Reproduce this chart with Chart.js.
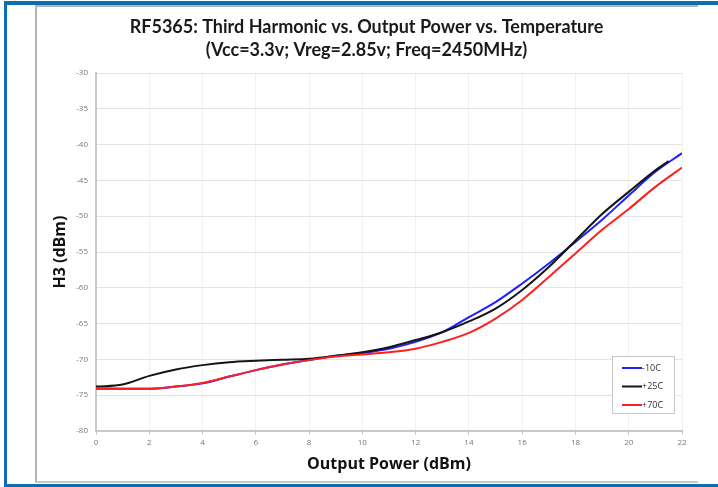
<!DOCTYPE html>
<html>
<head>
<meta charset="utf-8">
<script src="https://cdn.jsdelivr.net/npm/chart.js@4"></script>
<style>
  html, body { margin: 0; padding: 0; background: #fff; }
  #wrap { position: relative; width: 718px; height: 487px; overflow: hidden; }
  .blue { position: absolute; background: #0b6db3; }
  #sheet { position: absolute; left: 35px; top: 5px; width: 663px; height: 478px;
           border-left: 2px solid #b4b4b4; border-top: 2px solid #b4b4b4; border-bottom: 2px solid #c8c8c8;
           box-sizing: border-box; }
  canvas { position: absolute; left: 0; top: 0; }
</style>
</head>
<body>
<div id="wrap">
  <div id="sheet"></div>
  <div class="blue" style="left:4px;top:1px;width:714px;height:4px"></div>
  <div class="blue" style="left:4px;top:1px;width:3px;height:486px"></div>
  <div class="blue" style="left:4px;top:484px;width:714px;height:3px"></div>
  <canvas id="chart" width="718" height="487"></canvas>
</div>
<script>
// output power (dBm) sample points
var powerPts = [0, 1, 2, 3, 4, 5, 6, 7, 8, 9, 10, 11, 12, 13, 14, 15, 16, 17, 18, 19, 20, 21, 22];
var powerPts25 = [0, 1, 2, 3, 4, 5, 6, 7, 8, 9, 10, 11, 12, 13, 14, 15, 16, 17, 18, 19, 20, 21, 21.5];

// H3 (dBm) per temperature
var h3Minus10 = [-74.1, -74.1, -74.1, -73.8, -73.35, -72.4, -71.5, -70.7, -70.1, -69.5, -69.1, -68.5,
                 -67.55, -66.2, -64.1, -62.0, -59.4, -56.6, -53.6, -50.5, -47.1, -43.8, -41.2];
var h3Plus25 = [-73.8, -73.5, -72.3, -71.4, -70.8, -70.4, -70.2, -70.05, -69.9, -69.5, -69.0, -68.3,
                -67.3, -66.2, -64.7, -62.9, -60.3, -57.1, -53.4, -49.7, -46.6, -43.6, -42.3];
var h3Plus70 = [-74.0, -74.1, -74.1, -73.8, -73.3, -72.4, -71.5, -70.7, -70.1, -69.6, -69.3, -69.0,
                -68.5, -67.55, -66.3, -64.3, -61.7, -58.5, -55.2, -51.9, -49.0, -45.9, -43.2];

var seriesNames = ['-10C', '+25C', '+70C'];
var seriesColors = ['#1f1fff', '#141414', '#ff1f1f'];

var titleLines = ['RF5365: Third Harmonic vs. Output Power vs. Temperature',
                  '(Vcc=3.3v; Vreg=2.85v; Freq=2450MHz)'];

function pts(xs, ys) {
    return xs.map(function (x, i) { return { x: x, y: ys[i] }; });
}

// legend box in the lower right of the plot
var boxLegend = {
    id: 'boxLegend',
    afterDraw: function (chart) {
        var ctx = chart.ctx;
        var x0 = 612, y0 = 356, w = 62, h = 57;
        ctx.save();
        ctx.fillStyle = '#fff';
        ctx.fillRect(x0, y0, w, h);
        ctx.strokeStyle = '#c8c8c8';
        ctx.lineWidth = 1;
        ctx.strokeRect(x0 + 0.5, y0 + 0.5, w, h);
        ctx.font = '9px "Open Sans", sans-serif';
        ctx.textBaseline = 'middle';
        chart.data.datasets.forEach(function (ds, i) {
            var y = y0 + 12 + i * 18.5;
            ctx.strokeStyle = ds.borderColor;
            ctx.lineWidth = 2;
            ctx.beginPath();
            ctx.moveTo(x0 + 10, y);
            ctx.lineTo(x0 + 30, y);
            ctx.stroke();
            ctx.fillStyle = '#333';
            ctx.fillText(ds.label, x0 + 30, y);
        });
        ctx.restore();
    }
};

var data = {
    datasets: [
        { label: seriesNames[0], data: pts(powerPts, h3Minus10), borderColor: seriesColors[0], order: 2 },
        { label: seriesNames[1], data: pts(powerPts25, h3Plus25), borderColor: seriesColors[1], order: 1 },
        { label: seriesNames[2], data: pts(powerPts, h3Plus70), borderColor: seriesColors[2], order: 0 }
    ]
};

new Chart(document.getElementById('chart').getContext('2d'), {
    type: 'line',
    data: data,
    options: {
        responsive: false,
        animation: false,
        layout: { padding: { left: 35, right: 20, top: 5, bottom: 3 } },
        elements: {
            line: { borderWidth: 2, cubicInterpolationMode: 'monotone', fill: false },
            point: { radius: 0 }
        },
        plugins: {
            legend: { display: false },
            tooltip: { enabled: false },
            title: {
                display: true,
                text: titleLines,
                color: '#1a1a1a',
                font: { family: 'Lato, "Open Sans", sans-serif', size: 18, weight: 'bold', lineHeight: 1.25 },
                padding: { top: 11, bottom: 12 }
            }
        },
        scales: {
            x: {
                type: 'linear',
                min: 0, max: 22,
                ticks: { stepSize: 2, color: '#777', font: { size: 8, family: '"Open Sans", sans-serif' }, padding: 3 },
                grid: { color: '#f0f0f0', tickColor: '#c8c8c8', tickLength: 4 },
                border: { color: '#c8c8c8', width: 2 },
                title: {
                    display: true, text: 'Output Power (dBm)', color: '#111',
                    font: { family: '"Open Sans", sans-serif', size: 16, weight: 'bold' },
                    padding: { top: 0, bottom: 10 }
                },
                afterFit: function (s) { s.height = 53; }
            },
            y: {
                min: -80, max: -30,
                ticks: { stepSize: 5, color: '#777', font: { size: 8, family: '"Open Sans", sans-serif' }, padding: 8 },
                grid: { color: '#e4e4e4', drawTicks: false },
                border: { color: '#c8c8c8', width: 2 },
                title: {
                    display: true, text: 'H3 (dBm)', color: '#111',
                    font: { family: '"Open Sans", sans-serif', size: 16, weight: 'bold' },
                    padding: { top: 16, bottom: 0 }
                },
                afterFit: function (s) { s.width = 61; }
            },
            yRight: {
                position: 'right',
                display: true,
                ticks: { display: false },
                grid: { display: false, drawTicks: false },
                border: { display: false },
                afterFit: function (s) { s.width = 16; }
            }
        }
    },
    plugins: [boxLegend]
});
</script>
</body>
</html>
